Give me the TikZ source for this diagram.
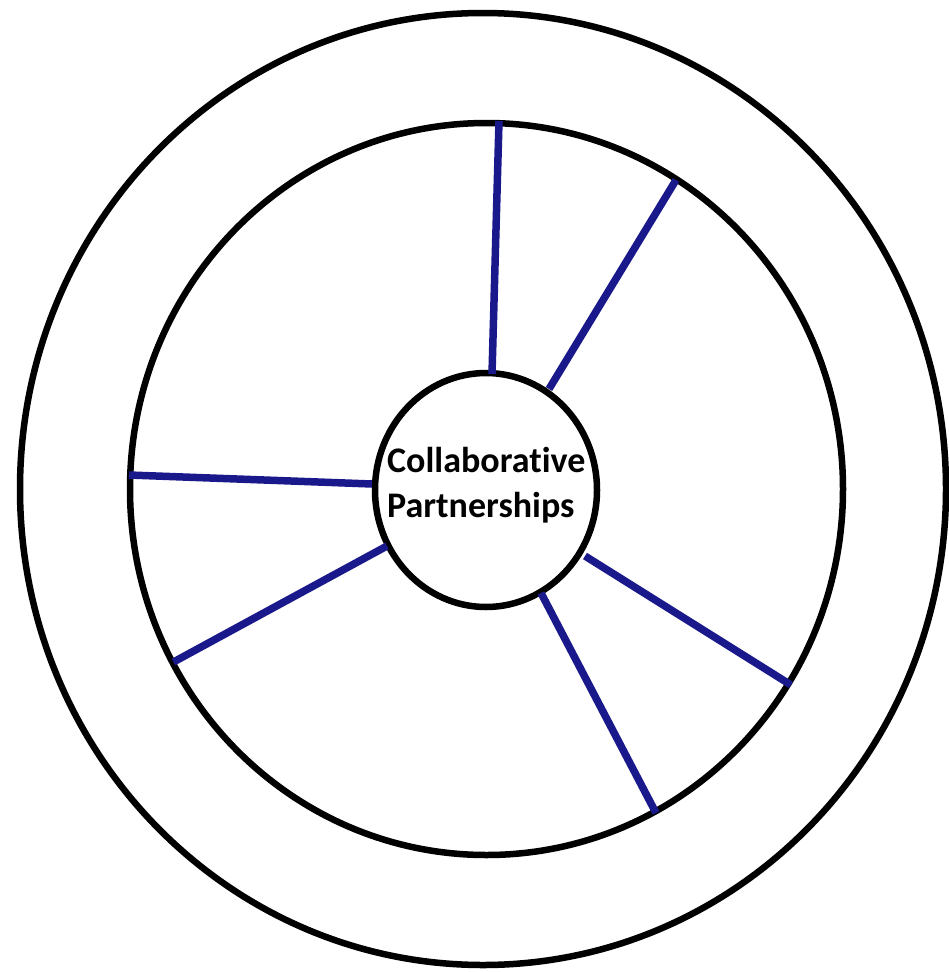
\documentclass[tikz,border=0pt]{standalone}
\usepackage{fontspec}
\setmainfont{Carlito}[Ligatures={NoCommon}]
\usetikzlibrary{shapes.geometric}
\definecolor{spoke}{RGB}{25,25,140}
\begin{document}
\begin{tikzpicture}[x=1pt,y=-1pt,
  ring/.style={draw=black,line width=6.5pt,ellipse,inner sep=0pt,outer sep=0pt},
  spokeline/.style={draw=spoke,line width=7.5pt},
  label/.style={font=\fontsize{36}{45}\selectfont\bfseries,inner sep=0pt,anchor=base west}]
\useasboundingbox[fill=white] (0,0) rectangle (948,972);
\node[ring,minimum width=926pt,minimum height=952pt] (outer) at (483,489) {};
\node[ring,minimum width=713pt,minimum height=732pt] (inner) at (486.5,489) {};
\node[ring,minimum width=222pt,minimum height=234pt] (hub) at (486,490) {};
\coordinate (s1a) at (499,121); \coordinate (s1b) at (492,374);
\coordinate (s2a) at (676,180); \coordinate (s2b) at (549,389);
\coordinate (s3a) at (129,475); \coordinate (s3b) at (372,484);
\coordinate (s4a) at (173.5,662); \coordinate (s4b) at (387,546);
\coordinate (s5a) at (791,685); \coordinate (s5b) at (585,556);
\coordinate (s6a) at (656,813); \coordinate (s6b) at (541,593);
\foreach \i in {1,...,6} { \draw[spokeline] (s\i a) -- (s\i b); }
\node[label] (t1) at (387,472) {Collaborative};
\node[label] (t2) at (387,517) {Partnerships};
\end{tikzpicture}
\end{document}
